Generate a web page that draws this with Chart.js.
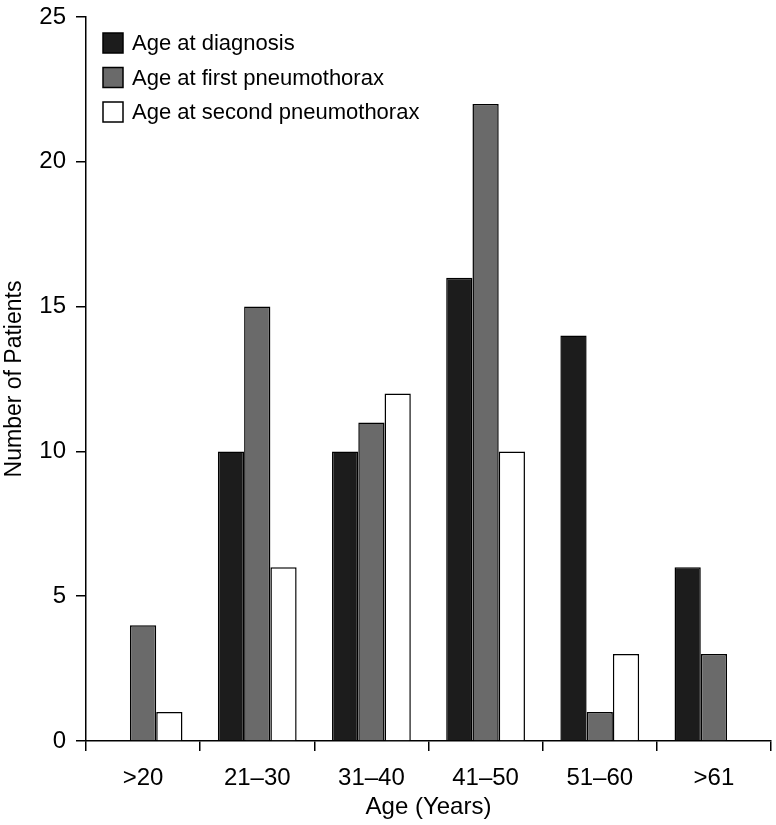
<!DOCTYPE html>
<html><head><meta charset="utf-8">
<script src="https://cdn.jsdelivr.net/npm/chart.js@4/dist/chart.umd.min.js"></script>
<style>html,body{margin:0;padding:0;background:#fff}#wrap{width:776px;height:825px}</style>
</head><body><div id="wrap"><canvas id="c" width="776" height="825"></canvas></div>
<script>
const categories = [">20", "21\u201330", "31\u201340", "41\u201350", "51\u201360", ">61"];
const ageAtDiagnosis = [0, 10, 10, 16, 14, 6];
const ageAtFirstPneumothorax = [4, 15, 11, 22, 1, 3];
const ageAtSecondPneumothorax = [1, 6, 12, 10, 3, 0];
const seriesLabels = ["Age at diagnosis", "Age at first pneumothorax", "Age at second pneumothorax"];
const yTicks = [0, 5, 10, 15, 20, 25];

const FONT = "'Liberation Sans', Arial, Helvetica, sans-serif";

const legendPlugin = {
  id: 'insideLegend',
  afterDraw(chart) {
    const ctx = chart.ctx;
    ctx.save();
    const x0 = 103, y0 = 33, step = 34.5, box = 20;
    chart.data.datasets.forEach((ds, i) => {
      const y = y0 + i * step;
      ctx.fillStyle = ds.backgroundColor;
      ctx.fillRect(x0, y, box, box);
      ctx.strokeStyle = '#000';
      ctx.lineWidth = 1.5;
      ctx.strokeRect(x0, y, box, box);
      ctx.fillStyle = '#000';
      ctx.font = "22px " + FONT;
      ctx.textBaseline = 'middle';
      ctx.textAlign = 'left';
      ctx.fillText(ds.label, x0 + 29, y + box / 2 + 1);
    });
    ctx.restore();
  }
};

new Chart(document.getElementById('c'), {
  type: 'bar',
  data: {
    labels: categories,
    datasets: [
      { label: seriesLabels[0], data: ageAtDiagnosis, backgroundColor: '#1c1c1c', borderColor: '#000', borderWidth: 1.5 },
      { label: seriesLabels[1], data: ageAtFirstPneumothorax, backgroundColor: '#6a6a6a', borderColor: '#000', borderWidth: 1.5 },
      { label: seriesLabels[2], data: ageAtSecondPneumothorax, backgroundColor: '#ffffff', borderColor: '#000', borderWidth: 1.5 }
    ]
  },
  options: {
    responsive: false,
    animation: false,
    devicePixelRatio: 1,
    layout: { padding: { top: 17, right: 5, left: 0, bottom: 0 } },
    datasets: { bar: { barPercentage: 1.0, categoryPercentage: 0.69 } },
    plugins: { legend: { display: false }, tooltip: { enabled: false } },
    scales: {
      x: {
        offset: true,
        grid: { display: true, drawOnChartArea: false, offset: true, color: '#000', lineWidth: 1.5, tickLength: 10, tickColor: '#000' },
        border: { display: true, color: '#000', width: 1.5 },
        ticks: { color: '#000', font: { size: 24, family: FONT }, padding: 13, maxRotation: 0 },
        title: { display: true, text: 'Age (Years)', color: '#000', font: { size: 24, family: FONT }, padding: { top: 2, bottom: 3 } },
        afterFit(s) { s.height = 84; s.paddingLeft = 0; s.paddingRight = 0; }
      },
      y: {
        min: 0, max: 25,
        afterBuildTicks(s) { s.ticks = yTicks.map(v => ({ value: v })); },
        grid: { display: true, drawOnChartArea: false, color: '#000', lineWidth: 1.5, tickLength: 10, tickColor: '#000' },
        border: { display: true, color: '#000', width: 1.5 },
        ticks: { color: '#000', font: { size: 24, family: FONT }, padding: 10 },
        title: { display: true, text: 'Number of Patients', color: '#000', font: { size: 23, family: FONT }, padding: { top: 1, bottom: 10 } },
        afterFit(s) { s.width = 86; s.paddingTop = 0; s.paddingBottom = 0; }
      }
    }
  },
  plugins: [legendPlugin]
});
</script></body></html>
